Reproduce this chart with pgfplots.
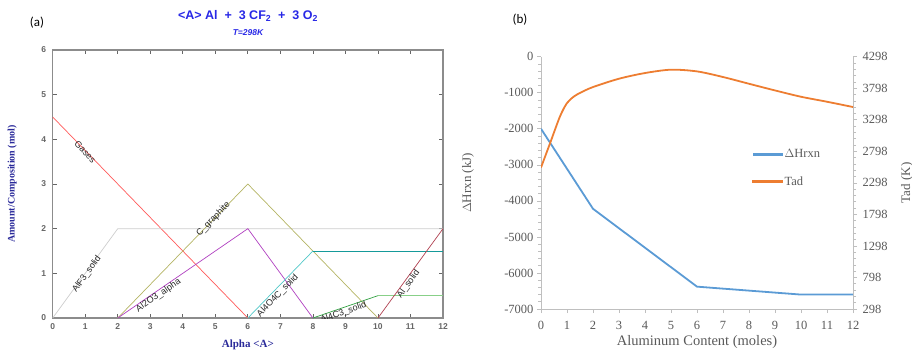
\documentclass[border=0pt]{standalone}
\usepackage{pgfplots}
\pgfplotsset{compat=1.18}
\usepackage{fontspec}
\setmainfont{Liberation Serif}
\newfontfamily\arial{Liberation Sans}
\newfontfamily\calibri{Carlito}
\definecolor{titleblue}{HTML}{2828E6}
\definecolor{labblue}{HTML}{2A2A9A}
\definecolor{cgas}{HTML}{FF5A5A}
\definecolor{calf}{HTML}{CDCDCD}
\definecolor{cgra}{HTML}{B4B464}
\definecolor{calo}{HTML}{B040C0}
\definecolor{ccyan}{HTML}{50C8C8}
\definecolor{cteal}{HTML}{159A9A}
\definecolor{cgreen}{HTML}{30A040}
\definecolor{clgreen}{HTML}{88D088}
\definecolor{calsol}{HTML}{B04050}
\definecolor{xlblue}{HTML}{5B9BD5}
\definecolor{xlorange}{HTML}{ED7D31}
\definecolor{xlgray}{HTML}{595959}
\definecolor{xlaxis}{HTML}{BFBFBF}
\begin{document}
\begin{tikzpicture}
\path[use as bounding box] (0pt,0pt) rectangle (912pt,351pt);
% panel labels and title
\node at (37pt,328pt) {\calibri\fontsize{13}{15}\selectfont (a)};
\node at (520pt,331pt) {\calibri\fontsize{13}{15}\selectfont (b)};
\node[text=titleblue] at (248pt,335pt) {\arial\bfseries\fontsize{12.5}{14}\selectfont <A> Al\ \ +\ \ 3 CF\textsubscript{2}\ \ +\ \ 3 O\textsubscript{2}};
\node[text=titleblue] at (248pt,318pt) {\arial\bfseries\itshape\fontsize{8.5}{9}\selectfont T=298K};

% ---------- panel (a)
\begin{axis}[
  at={(52.7pt,33pt)}, anchor=south west,
  scale only axis, width=390.3pt, height=268pt,
  xmin=0, xmax=12, ymin=0, ymax=6,
  xtick={0,...,12}, ytick={0,...,6},
  tick align=inside, major tick length=4pt,
  axis line style={black!45, line width=1.2pt},
  tick style={black!60, line width=0.8pt},
  /pgf/number format/assume math mode=true,
  ticklabel style={font=\arial\bfseries\fontsize{8.5}{10}\selectfont, text=black!60},
  xticklabel style={yshift=-2pt},
  yticklabel style={xshift=-3pt},
  xlabel={Alpha <A>},
  xlabel style={font=\bfseries\fontsize{11}{12}\selectfont, text=labblue, at={(axis description cs:0.5,-0.1)}, anchor=center},
  ylabel={Amount/Composition (mol)},
  ylabel style={font=\bfseries\fontsize{10}{11}\selectfont, text=labblue, at={(axis description cs:-0.104,0.5)}, anchor=center},
  every axis plot/.append style={line width=0.7pt},
]
\addplot[cgas] coordinates {(0,4.5) (6,0)};
\addplot[calf] coordinates {(0,0) (2,2) (12,2)};
\addplot[cgra] coordinates {(2,0) (6,3) (10,0)};
\addplot[calo] coordinates {(2,0) (6,2) (8,0)};
\addplot[ccyan] coordinates {(6,0) (8,1.5)};
\addplot[cteal] coordinates {(8,1.5) (12,1.5)};
\addplot[cgreen] coordinates {(8,0) (10,0.5)};
\addplot[clgreen] coordinates {(10,0.5) (12,0.5)};
\addplot[calsol] coordinates {(10,0) (12,2)};
\begin{scope}[every node/.style={font=\arial\fontsize{9}{10}\selectfont, text=black!85, inner sep=0.5pt}]
\node[rotate=-46] at (axis cs:1.0,3.72) {Gases};
\node[rotate=54] at (axis cs:1.05,0.98) {AlF3\_solid};
\node[rotate=46] at (axis cs:4.94,2.21) {C\_graphite};
\node[rotate=34.5] at (axis cs:3.25,0.5) {Al2O3\_alpha};
\node[rotate=46] at (axis cs:6.92,0.5) {Al4O4C\_solid};
\node[rotate=19] at (axis cs:8.94,0.12) {Al4C3\_solid};
\node[rotate=54] at (axis cs:10.94,0.76) {Al\_solid};
\end{scope}
\end{axis}

% ---------- panel (b) left axis
\begin{axis}[
  at={(541pt,42pt)}, anchor=south west,
  scale only axis, width=312pt, height=252.3pt,
  xmin=0, xmax=12, ymin=-7000, ymax=0,
  xtick={0,...,12}, ytick={-7000,-6000,...,0},
  minor y tick num=4,
  axis y line*=left, axis x line*=bottom,
  axis line style={xlaxis, line width=0.8pt, -},
  tick style={xlaxis, line width=0.6pt},
  tick align=outside, major tick length=4pt, minor tick length=3pt,
  /pgf/number format/assume math mode=true,
  /pgf/number format/set thousands separator={},
  ticklabel style={font=\fontsize{12.5}{14}\selectfont, text=xlgray},
  xticklabel style={yshift=-5pt},
  xlabel={Aluminum Content (moles)},
  xlabel style={font=\fontsize{14.5}{16}\selectfont, text=xlgray, at={(axis description cs:0.5,-0.131)}, anchor=center},
  ylabel={$\Delta$Hrxn (kJ)},
  ylabel style={font=\fontsize{13}{15}\selectfont, text=xlgray, at={(axis description cs:-0.234,0.5)}, anchor=center, rotate=0},
]
\addplot[xlblue, line width=1.8pt] coordinates {(0,-2000) (2,-4220) (6,-6380) (8,-6490) (10,-6600) (12,-6600)};
\end{axis}

% ---------- panel (b) right axis
\begin{axis}[
  at={(541pt,42pt)}, anchor=south west,
  scale only axis, width=312pt, height=252.3pt,
  xmin=0, xmax=12, ymin=298, ymax=4298,
  ytick={298,798,...,4298},
  minor y tick num=4,
  axis y line*=right, hide x axis,
  axis line style={xlaxis, line width=0.8pt, -},
  tick style={xlaxis, line width=0.6pt},
  tick align=outside, major tick length=4pt, minor tick length=3pt,
  /pgf/number format/assume math mode=true,
  /pgf/number format/set thousands separator={},
  ticklabel style={font=\fontsize{12.5}{14}\selectfont, text=xlgray},
  yticklabel style={xshift=2pt},
  ylabel={Tad (K)},
  ylabel style={font=\fontsize{13}{15}\selectfont, text=xlgray, at={(axis description cs:1.173,0.5)}, anchor=center, rotate=0},
  legend style={at={(0.675,0.64)}, anchor=north west, draw=none, fill=none,
    font=\fontsize{12.5}{14}\selectfont, text=xlgray, row sep=13pt, inner sep=0pt},
  legend cell align=left,
]
\addlegendimage{legend image code/.code={\fill[xlblue] (0pt,-0.9pt) rectangle (29pt,0.9pt);}}
\addlegendentry{$\Delta$Hrxn}
\addplot[xlorange, line width=1.8pt, smooth,
  legend image code/.code={\fill[xlorange] (0pt,-0.9pt) rectangle (29pt,0.9pt);}] coordinates {
(0,2541) (0.35,2928) (0.73,3351) (1,3563) (1.27,3668) (1.54,3732) (2,3817)
(3,3949) (4,4039) (5,4092) (6,4065) (7,3976) (8,3869) (9,3763) (10,3663) (11,3584) (12,3500)};
\addlegendentry{Tad}
\end{axis}
\end{tikzpicture}
\end{document}
